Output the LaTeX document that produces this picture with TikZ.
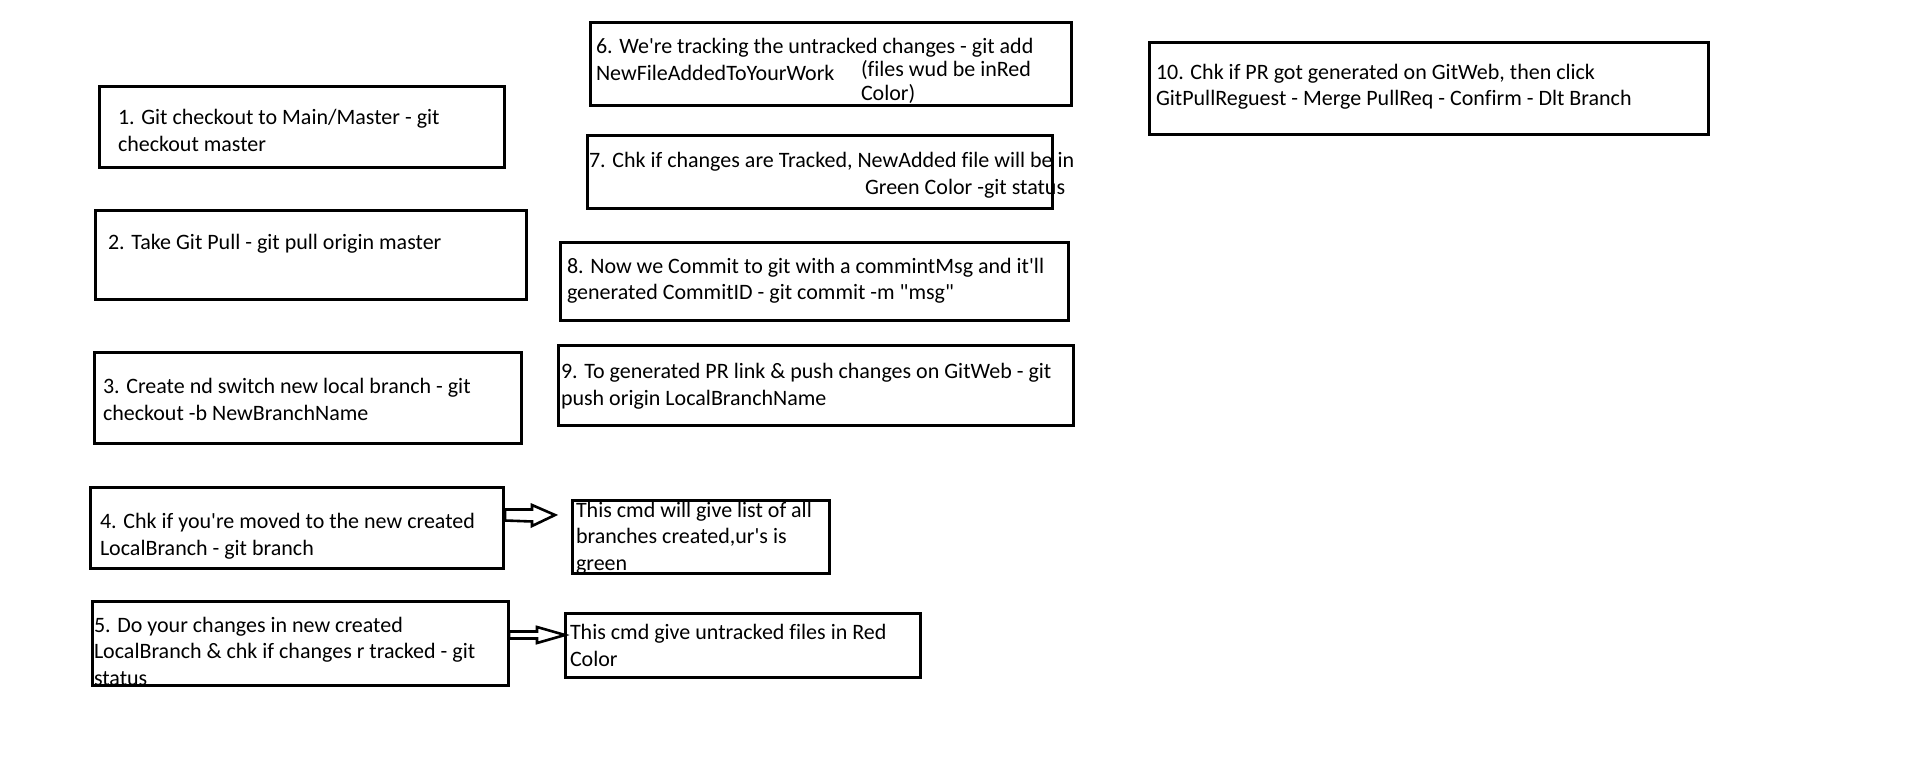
\documentclass[tikz,border=0pt]{standalone}
\usepackage{fontspec}
\setmainfont{Carlito}[Ligatures=NoCommon]
\usetikzlibrary{calc}
\newcommand{\sq}{\textquotesingle}
\newcommand{\dq}{\textquotedbl}
\begin{document}
\begin{tikzpicture}[x=1pt,y=-1pt,
  txt/.style={anchor=base west,inner sep=0pt,outer sep=0pt,font=\fontsize{22}{27}\selectfont},
  box/.style={draw=black,line width=3pt,inner sep=0pt,outer sep=0pt},
  blockarrow/.style={draw=black,line width=2.6pt,line join=miter,fill=white}]
\fill[white] (0,0) rectangle (1914,770);
\useasboundingbox (0,0) rectangle (1914,770);
% texts
\node[txt] (t1a) at (118,125) {1. Git checkout to Main/Master - git};
\node[txt] (t1b) at (118,152) {checkout master};
\node[txt] (t2a) at (108,250) {2. Take Git Pull - git pull origin master};
\node[txt] (t3a) at (103,393) {3. Create nd switch new local branch - git};
\node[txt] (t3b) at (103,420) {checkout -b NewBranchName};
\node[txt] (t4a) at (100,528) {4. Chk if you\sq re moved to the new created};
\node[txt] (t4b) at (100,555) {LocalBranch - git branch};
\node[txt] (t4c) at (576,517) {This cmd will give list of all};
\node[txt] (t4d) at (576,543) {branches created,ur\sq s is};
\node[txt] (t4e) at (576,570) {green};
\node[txt] (t5a) at (94,632) {5. Do your changes in new created};
\node[txt] (t5b) at (94,658) {LocalBranch \& chk if changes r tracked - git};
\node[txt] (t5c) at (94,685) {status};
\node[txt] (t5d) at (570,639) {This cmd give untracked files in Red};
\node[txt] (t5e) at (570,666) {Color};
\node[txt] (t6a) at (596,54) {6. We\sq re tracking the untracked changes - git add};
\node[txt] (t6b) at (596,81) {NewFileAddedToYourWork};
\node[txt] (t6c) at (861,77) {(files wud be inRed};
\node[txt] (t6d) at (861,101) {Color)};
\node[txt] (t7a) at (589,168) {7. Chk if changes are Tracked, NewAdded file will be in};
\node[txt] (t7b) at (865,195) {Green Color -git status};
\node[txt] (t8a) at (567,273) {8. Now we Commit to git with a commintMsg and it\sq ll};
\node[txt] (t8b) at (567,299) {generated CommitID - git commit -m \dq msg\dq};
\node[txt] (t9a) at (561,378) {9. To generated PR link \& push changes on GitWeb - git};
\node[txt] (t9b) at (561,405) {push origin LocalBranchName};
\node[txt] (t10a) at (1156,80) {10. Chk if PR got generated on GitWeb, then click};
\node[txt] (t10b) at (1156,106) {GitPullReguest - Merge PullReq - Confirm - Dlt Branch};
% boxes
\node[box,anchor=north west,minimum width=405,minimum height=81] (b1) at (99,87) {};
\node[box,anchor=north west,minimum width=431,minimum height=88] (b2) at (95,211) {};
\node[box,anchor=north west,minimum width=427,minimum height=91] (b3) at (94,352) {};
\node[box,anchor=north west,minimum width=413,minimum height=81] (b4) at (90,487) {};
\node[box,anchor=north west,minimum width=257,minimum height=73] (b4r) at (572,500) {};
\node[box,anchor=north west,minimum width=416,minimum height=84] (b5) at (92,601) {};
\node[box,anchor=north west,minimum width=355,minimum height=64] (b5r) at (565,613) {};
\node[box,anchor=north west,minimum width=481,minimum height=83] (b6) at (590,23) {};
\node[box,anchor=north west,minimum width=465,minimum height=73] (b7) at (587,136) {};
\node[box,anchor=north west,minimum width=508,minimum height=78] (b8) at (560,242) {};
\node[box,anchor=north west,minimum width=515,minimum height=80] (b9) at (558,345) {};
\node[box,anchor=north west,minimum width=559,minimum height=92] (b10) at (1149,43) {};
% block arrows
\coordinate (y515) at (0,515);
\coordinate (y635) at (0,635);
\coordinate (a1s) at (b4.east |- y515);
\coordinate (a1e) at (555,515);
\draw[blockarrow] ($(a1s)+(2,-5.5)$) -- (532,509.5) -- (532,505) -- (a1e) -- (532,526) -- (532,521.5) -- ($(a1s)+(2,5.5)$) -- cycle;
\coordinate (a2s) at (b5.east |- y635);
\coordinate (a2e) at (b5r.west |- y635);
\draw[blockarrow] ($(a2s)+(1,-3.5)$) -- (537,631.5) -- (537,627) -- (a2e) -- (537,643) -- (537,638.5) -- ($(a2s)+(1,3.5)$) -- cycle;
\end{tikzpicture}
\end{document}
